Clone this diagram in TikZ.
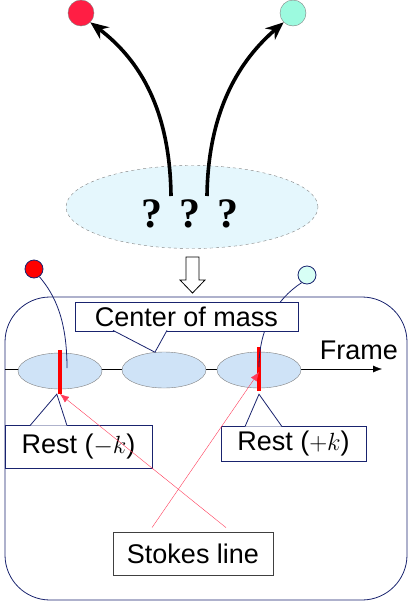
\documentclass[tikz,border=0pt]{standalone}
\usepackage{fontspec}
\setmainfont{Liberation Sans}
\newfontfamily\qfont{Liberation Serif}
\usetikzlibrary{shapes.geometric,arrows.meta}
\definecolor{navy}{RGB}{25,35,110}
\definecolor{restblue}{RGB}{207,227,247}
\definecolor{cloudcyan}{RGB}{229,247,253}
\definecolor{topred}{RGB}{255,30,68}
\definecolor{topgreen}{RGB}{156,250,223}
\definecolor{smallcyan}{RGB}{215,255,245}
\definecolor{stokesred}{RGB}{255,60,90}
\begin{document}
\begin{tikzpicture}[x=1pt, y=-1pt,
    ball/.style={circle, draw=gray, inner sep=0pt, minimum size=26pt},
    smallball/.style={circle, draw=navy, thick, inner sep=0pt, minimum size=18pt},
    cloud/.style={ellipse, draw=gray, dashed, fill=cloudcyan, minimum width=252pt, minimum height=83pt, inner sep=0pt},
    rest/.style={ellipse, draw=gray, fill=restblue, minimum width=84pt, minimum height=36pt, inner sep=0pt},
    tag/.style={rectangle, draw=navy, thick, fill=white, inner sep=0pt, font=\fontsize{27}{30}\selectfont},
    pointer/.style={draw=navy, thick, fill=white},
    bigarrow/.style={-{Stealth[length=18pt,width=15pt]}, line width=3.6pt},
    stokes/.style={-{Latex[length=9pt,width=7pt]}, draw=stokesred, thin},
    bar/.style={draw=red, line width=3.5pt}
]
    \useasboundingbox (0,0) rectangle (415,603);

    % Teilchen oben
    \node[ball, fill=topred] (redtop) at (81,13) {};
    \node[ball, fill=topgreen] (greentop) at (293,13) {};
    \node[cloud] (cloud) at (192,207) {};
    \node[font=\qfont\bfseries\fontsize{42}{46}\selectfont] (qq) at (190,214) {?\hspace{17pt}?\hspace{17pt}?};
    \coordinate (qL) at (171,196);
    \coordinate (qR) at (207,196);
    \draw[bigarrow] (qL) .. controls (170,110) and (140,60) .. (redtop.-45);
    \draw[bigarrow] (qR) .. controls (208,110) and (240,60) .. (greentop.-135);

    % Pfeil nach unten
    \draw[thick, fill=white] (186,257) -- (199,257) -- (199,280) -- (205,280) -- (192.5,293)
        -- (180,280) -- (186,280) -- cycle;

    % Rahmen
    \draw[navy, thick, rounded corners=45pt] (5,297) rectangle (407,600);
    \coordinate (frameL) at (5,369);
    \coordinate (frameR) at (382,369);
    \draw[-{Latex[length=9pt,width=7pt]}] (frameL) -- (frameR);
    \node[font=\fontsize{27}{30}\selectfont] (frame) at (359,350) {Frame};

    % Ellipsen
    \node[rest] (lrest) at (60,371) {};
    \node[rest] (mid) at (164,370) {};
    \node[rest] (rrest) at (259,370) {};
    \coordinate (lbartop) at (60,350);
    \coordinate (lbarbot) at (60,394);
    \coordinate (rbartop) at (259,347);
    \coordinate (rbarbot) at (259,391);
    \draw[bar] (lbartop) -- (lbarbot);
    \draw[bar] (rbartop) -- (rbarbot);

    % kleine Teilchen
    \node[smallball, fill=red] (lball) at (34,269) {};
    \node[smallball, fill=smallcyan] (rball) at (307,275) {};
    \draw[navy, thick] (lball.-55) .. controls (55,295) and (67,320) .. ([shift={(7pt,3pt)}]lrest.center);
    \draw[navy, thick] (rball.-125) .. controls (275,300) and (259,330) .. ([yshift=3pt]rrest.center);

    % Beschriftungen
    \node[tag, minimum width=223pt, minimum height=29pt] (com) at (186.5,316.5) {Center of mass};
    \draw[pointer] ([shift={(-73.5pt,1pt)}]com.south) -- (mid.117) -- ([shift={(-19.5pt,1pt)}]com.south);
    \node[tag, minimum width=147pt, minimum height=43pt] (restm) at (78.5,446.5) {Rest ($-k$)};
    \draw[pointer] ([shift={(-48.5pt,-1pt)}]restm.north) -- ([yshift=-5pt]lrest.260) -- ([shift={(-11.5pt,-1pt)}]restm.north);
    \node[tag, minimum width=145pt, minimum height=35pt] (restp) at (293.5,443.5) {Rest ($+k$)};
    \draw[pointer] ([shift={(-48.5pt,-1pt)}]restp.north) -- ([yshift=-6pt]rrest.south) -- ([shift={(-11.5pt,-1pt)}]restp.north);
    \node[tag, draw=darkgray, minimum width=160pt, minimum height=43pt] (stokesbox) at (193,553.5) {Stokes line};

    % Stokes-Linien
    \draw[stokes] ([shift={(33pt,4pt)}]stokesbox.north) -- (lbarbot);
    \draw[stokes] ([shift={(-41pt,4pt)}]stokesbox.north) -- ([yshift=-2pt]rrest.center);
\end{tikzpicture}
\end{document}
